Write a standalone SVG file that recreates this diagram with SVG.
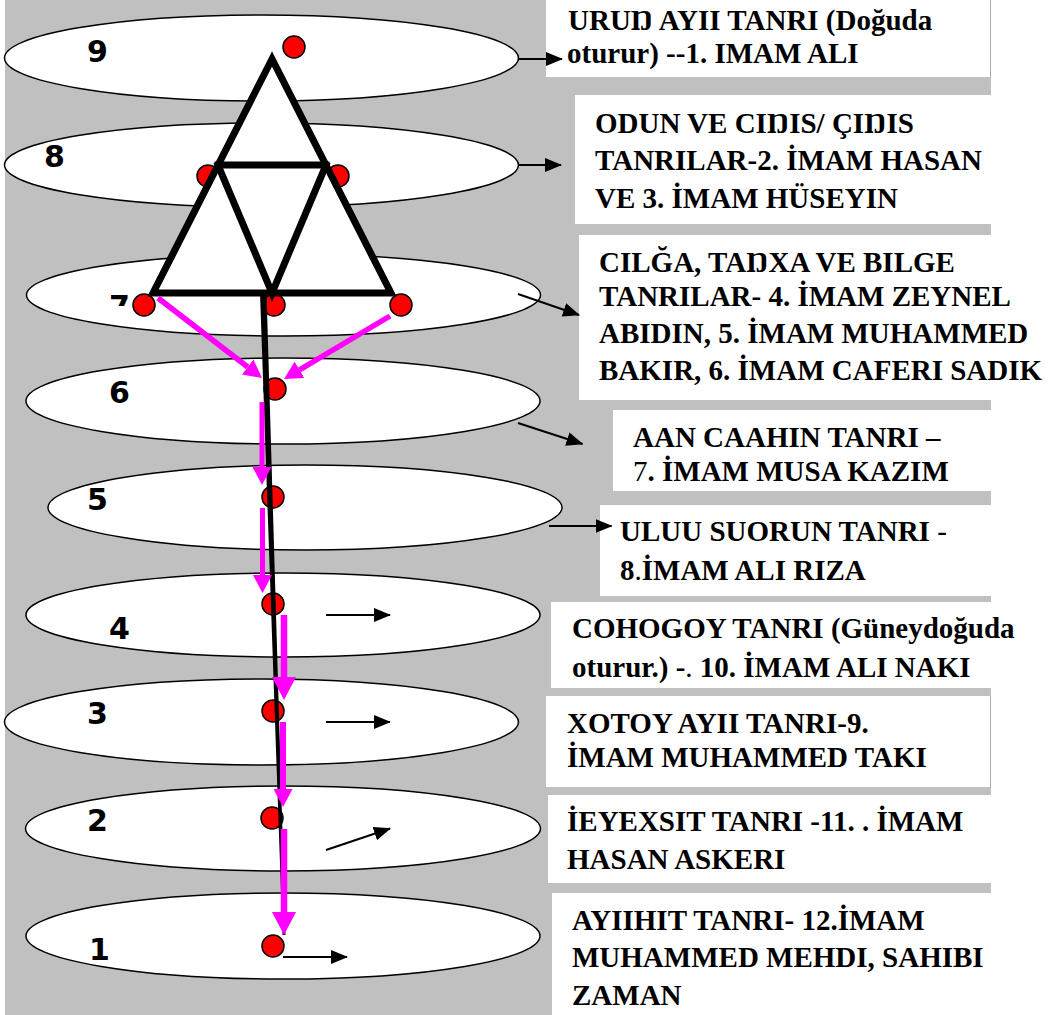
<svg xmlns="http://www.w3.org/2000/svg" width="1062" height="1015" viewBox="0 0 1062 1015">
<style>
.lvl{fill:#fff;stroke:#000;stroke-width:1.5}
.num{font-family:"DejaVu Sans",Verdana,sans-serif;font-weight:bold;font-size:30px;fill:#000}
.box{fill:#fff;stroke:none}
.txt{font-family:"Liberation Serif","Times New Roman",serif;font-weight:bold;font-size:29px;fill:#000}
.reg{font-weight:normal}
.dot{fill:#f00;stroke:#000;stroke-width:1.5}
.tri{fill:#fff;stroke:#000;stroke-width:7;stroke-linejoin:miter;stroke-linecap:square}
.blk{stroke:#000;stroke-width:2;fill:none}
.mag{stroke:#f0f;fill:none}
</style>
<defs>
<marker id="ah" markerUnits="userSpaceOnUse" markerWidth="17" markerHeight="14" refX="16" refY="7" orient="auto"><path d="M0,0 L17,7 L0,14 z" fill="#000"/></marker>
<marker id="mh" markerUnits="userSpaceOnUse" markerWidth="18" markerHeight="19" refX="0" refY="9.5" orient="auto"><path d="M0,0 L18,9.5 L0,19 z" fill="#f0f"/></marker>
<marker id="mhb" markerUnits="userSpaceOnUse" markerWidth="23" markerHeight="24" refX="0" refY="12" orient="auto"><path d="M0,0 L23,12 L0,24 z" fill="#f0f"/></marker>
<clipPath id="clip7"><rect x="100" y="280" width="40" height="26"/></clipPath>
</defs>
<rect x="5" y="0" width="986" height="1015" fill="#c0c0c0"/>

<g id="box-1"><rect class="box" x="546" y="0" width="445" height="77"/><line x1="990.5" y1="0" x2="990.5" y2="77" stroke="#a8a8a8" stroke-width="1"/>
<text class="txt"><tspan x="568" y="30">URUŊ AYII TANRI (Doğuda</tspan><tspan x="567" y="63">oturur) --1. IMAM ALI</tspan></text></g>
<g id="box-2"><rect class="box" x="575" y="95" width="416" height="129"/>
<text class="txt"><tspan x="595" y="133">ODUN VE CIŊIS/ ÇIŊIS</tspan><tspan x="595" y="170">TANRILAR-2. İMAM HASAN</tspan><tspan x="595" y="208">VE 3. İMAM HÜSEYIN</tspan></text></g>
<g id="box-3"><rect class="box" x="579" y="235" width="483" height="165"/>
<text class="txt"><tspan x="599" y="272">CILĞA, TAŊXA VE BILGE</tspan><tspan x="599" y="306">TANRILAR- 4. İMAM ZEYNEL</tspan><tspan x="599" y="343">ABIDIN, 5. İMAM MUHAMMED</tspan><tspan x="599" y="380">BAKIR, 6. İMAM CAFERI SADIK</tspan></text></g>
<g id="box-4"><rect class="box" x="613" y="410" width="378" height="81"/>
<text class="txt"><tspan x="633" y="447">AAN CAAHIN TANRI –</tspan><tspan x="633" y="481"><tspan class="reg">7</tspan>. İMAM MUSA KAZIM</tspan></text></g>
<g id="box-5"><rect class="box" x="600" y="505" width="391" height="91"/>
<text class="txt"><tspan x="620" y="541">ULUU SUORUN TANRI <tspan class="reg">-</tspan></tspan><tspan x="620" y="580">8<tspan class="reg">.</tspan>İMAM ALI RIZA</tspan></text></g>
<g id="box-6"><rect class="box" x="551" y="602" width="511" height="86"/>
<text class="txt"><tspan x="572" y="638">COHOGOY TANRI (Güneydoğuda</tspan><tspan x="572" y="677">oturur.) -<tspan class="reg">.</tspan> 10. İMAM ALI NAKI</tspan></text></g>
<g id="box-7"><rect class="box" x="546" y="696" width="445" height="91"/><line x1="990.5" y1="696" x2="990.5" y2="787" stroke="#a8a8a8" stroke-width="1"/>
<text class="txt"><tspan x="567" y="733">XOTOY AYII TANRI-9.</tspan><tspan x="567" y="767">İMAM MUHAMMED TAKI</tspan></text></g>
<g id="box-8"><rect class="box" x="548" y="795" width="443" height="88"/>
<text class="txt"><tspan x="567" y="831">İEYEXSIT TANRI -11. . İMAM</tspan><tspan x="567" y="869">HASAN ASKERI</tspan></text></g>
<g id="box-9"><rect class="box" x="552" y="893" width="510" height="122"/>
<text class="txt"><tspan x="572" y="930">AYIIHIT TANRI- 12.İMAM</tspan><tspan x="572" y="967">MUHAMMED MEHDI, SAHIBI</tspan><tspan x="572" y="1005">ZAMAN</tspan></text></g>

<g id="level-9"><ellipse class="lvl" cx="261.5" cy="58" rx="257" ry="43"/><text class="num" x="87" y="62">9</text></g>
<g id="level-8"><ellipse class="lvl" cx="261.5" cy="165" rx="257" ry="42"/><text class="num" x="44" y="167">8</text></g>
<g id="level-7"><ellipse class="lvl" cx="283.5" cy="295" rx="257" ry="41"/><text class="num" x="109" y="317" clip-path="url(#clip7)">7</text></g>
<g id="level-6"><ellipse class="lvl" cx="283" cy="401" rx="257" ry="43"/><text class="num" x="109" y="403">6</text></g>
<g id="level-5"><ellipse class="lvl" cx="305" cy="507.5" rx="257" ry="42.5"/><text class="num" x="87" y="510">5</text></g>
<g id="level-4"><ellipse class="lvl" cx="283" cy="615" rx="257" ry="42"/><text class="num" x="109" y="639">4</text></g>
<g id="level-3"><ellipse class="lvl" cx="261.5" cy="722" rx="257" ry="43"/><text class="num" x="87" y="724">3</text></g>
<g id="level-2"><ellipse class="lvl" cx="283" cy="828.5" rx="257.5" ry="42.5"/><text class="num" x="87" y="831">2</text></g>
<g id="level-1"><ellipse class="lvl" cx="283" cy="936" rx="257" ry="43"/><text class="num" x="89" y="960">1</text></g>

<g id="dots">
<circle class="dot" cx="294" cy="47" r="11"/>
<circle class="dot" cx="208" cy="176" r="11"/>
<circle class="dot" cx="338" cy="176" r="11"/>
<circle class="dot" cx="144" cy="305" r="11"/>
<circle class="dot" cx="274" cy="305" r="11"/>
<circle class="dot" cx="401" cy="305" r="11"/>
<circle class="dot" cx="275" cy="389" r="11"/>
<circle class="dot" cx="273" cy="497" r="11"/>
<circle class="dot" cx="273" cy="604" r="11"/>
<circle class="dot" cx="273" cy="711" r="11"/>
<circle class="dot" cx="272" cy="818" r="11"/>
<circle class="dot" cx="273" cy="946" r="11"/>
</g>

<g id="triangle">
<polygon class="tri" points="272,59 153,293 391,293"/>
<polyline class="tri" style="fill:none" points="218,165 326,165"/>
<polyline class="tri" style="fill:none" points="218,165 272,293 326,165"/>
</g>

<g id="connectors">
<polygon points="260,293 266.5,293 285.5,935 282.5,935" fill="#000"/>
<line class="mag" stroke-width="5.5" x1="158" y1="298" x2="247.7" y2="367" marker-end="url(#mh)"/>
<line class="mag" stroke-width="5.5" x1="390" y1="316" x2="299.5" y2="369.8" marker-end="url(#mh)"/>
<line class="mag" stroke-width="5" x1="262" y1="402" x2="262" y2="467" marker-end="url(#mh)"/>
<line class="mag" stroke-width="5" x1="262.5" y1="508" x2="262.5" y2="575" marker-end="url(#mh)"/>
<line class="mag" stroke-width="6.5" x1="284" y1="615" x2="284" y2="677" marker-end="url(#mhb)"/>
<line class="mag" stroke-width="6" x1="283" y1="722" x2="283" y2="789" marker-end="url(#mh)"/>
<line class="mag" stroke-width="6.5" x1="284" y1="829" x2="284" y2="912" marker-end="url(#mhb)"/>
<line class="blk" x1="518" y1="59" x2="562" y2="59" marker-end="url(#ah)"/>
<line class="blk" x1="518" y1="165" x2="561" y2="165" marker-end="url(#ah)"/>
<line class="blk" x1="518" y1="294" x2="579" y2="315" marker-end="url(#ah)"/>
<line class="blk" x1="518" y1="423" x2="582.5" y2="444" marker-end="url(#ah)"/>
<line class="blk" x1="549" y1="526" x2="611.5" y2="526" marker-end="url(#ah)"/>
<line class="blk" x1="326" y1="615" x2="390" y2="615" marker-end="url(#ah)"/>
<line class="blk" x1="326" y1="722" x2="390" y2="722" marker-end="url(#ah)"/>
<line class="blk" x1="326" y1="850" x2="390" y2="828.5" marker-end="url(#ah)"/>
<line class="blk" x1="283" y1="957" x2="347" y2="957" marker-end="url(#ah)"/>
</g>
</svg>
